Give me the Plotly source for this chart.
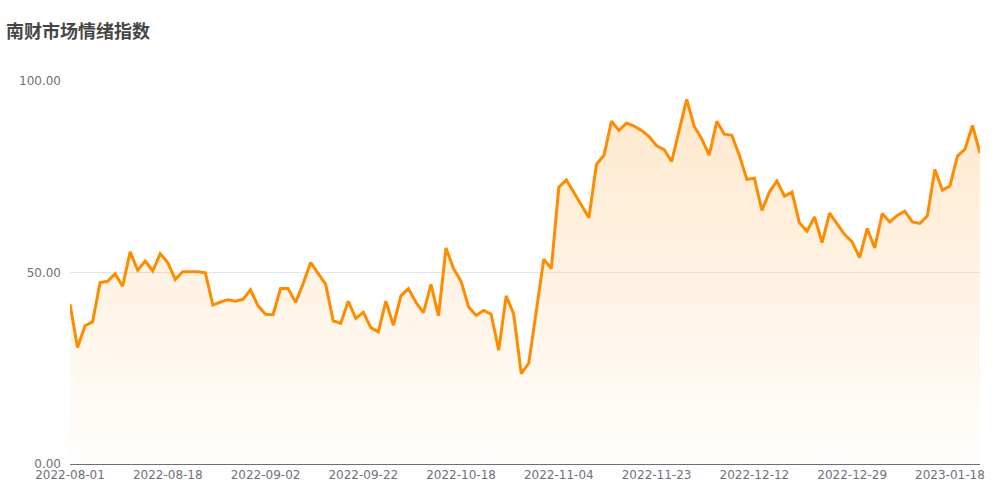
import pandas as pd
import plotly.graph_objects as go

title_text = "南财市场情绪指数"

# Dates shown as x-axis labels (every 13th category)
label_dates = ["2022-08-01", "2022-08-18", "2022-09-02", "2022-09-22", "2022-10-18",
               "2022-11-04", "2022-11-23", "2022-12-12", "2022-12-29", "2023-01-18"]
tail_dates = ["2023-01-19", "2023-01-20", "2023-01-30", "2023-01-31"]

values = [
    41.7, 30.4, 36.1, 37.1, 47.4, 47.7, 49.7, 46.4, 55.4, 50.6,
    53.0, 50.4, 54.9, 52.6, 48.2, 50.2, 50.2, 50.2, 49.9, 41.5,
    42.3, 42.9, 42.5, 43.0, 45.5, 41.3, 39.1, 39.0, 45.8, 45.8,
    42.2, 47.1, 52.6, 49.9, 46.9, 37.4, 36.7, 42.5, 38.0, 39.6,
    35.6, 34.5, 42.5, 36.2, 43.9, 45.8, 42.2, 39.5, 46.9, 38.7,
    56.4, 51.0, 47.7, 41.0, 38.8, 40.1, 39.1, 29.7, 43.9, 39.1,
    23.6, 26.3, 40.0, 53.5, 51.0, 72.3, 74.2, 71.0, 67.7, 64.3,
    78.2, 80.6, 89.5, 87.1, 89.0, 88.2, 87.1, 85.5, 83.1, 82.1,
    79.0, 87.3, 95.2, 88.2, 84.9, 80.6, 89.5, 86.1, 85.8, 80.6,
    74.3, 74.6, 66.2, 71.0, 73.9, 69.9, 71.0, 62.9, 60.8, 64.5,
    57.8, 65.5, 62.8, 59.9, 58.0, 53.9, 61.5, 56.4, 65.4, 63.2,
    64.9, 66.0, 63.2, 62.8, 64.8, 76.9, 71.5, 72.6, 80.4, 82.2,
    88.4, 81.2,
]

# Build the category list: 13 categories between consecutive labelled dates
categories = []
for a, b in zip(label_dates[:-1], label_dates[1:]):
    da, db = pd.Timestamp(a), pd.Timestamp(b)
    span = (db - da).days
    for k in range(13):
        categories.append((da + pd.Timedelta(days=round(span * k / 13))).strftime("%Y-%m-%d"))
categories.append(label_dates[-1])
categories += tail_dates
categories = categories[:len(values)]

fig = go.Figure()
fig.add_trace(go.Scatter(
    x=categories, y=values, mode="lines",
    line=dict(color="#FF8C00", width=3),
    fill="tozeroy",
    fillgradient=dict(type="vertical", start=0, stop=max(values),
                      colorscale=[[0, "rgba(255,140,0,0.01)"], [1, "rgba(255,140,0,0.2)"]]),
    hoverinfo="x+y",
))

fig.update_layout(
    width=1000, height=500,
    paper_bgcolor="white", plot_bgcolor="white",
    margin=dict(l=70, r=20, t=81, b=36),
    showlegend=False,
    font=dict(family="DejaVu Sans", size=12, color="#6E7079"),
    title=dict(text="<b>" + title_text + "</b>", xref="container", yref="container",
               x=0.006, xanchor="left", y=0.936, yanchor="middle",
               font=dict(family="Noto Sans CJK SC", size=18, color="#464646")),
)
fig.update_xaxes(
    type="category", categoryorder="array", categoryarray=categories,
    range=[0, len(values) - 1],
    tickmode="array", tickvals=label_dates, ticktext=label_dates,
    showgrid=False, showline=True, linecolor="#6E7079", linewidth=1,
    ticks="", tickfont=dict(size=12, color="#6E7079"),
)
fig.update_yaxes(
    range=[0, 100], tickvals=[0, 50, 100], tickformat=".2f",
    showgrid=True, gridcolor="#E0E6F1", gridwidth=1, zeroline=False,
    showline=False, ticks="", ticklabelstandoff=8,
    tickfont=dict(size=12, color="#6E7079"),
)

fig.write_html("out.html", config={"displayModeBar": False},
               post_script="document.body.style.margin='0';document.body.style.overflow='hidden';")
